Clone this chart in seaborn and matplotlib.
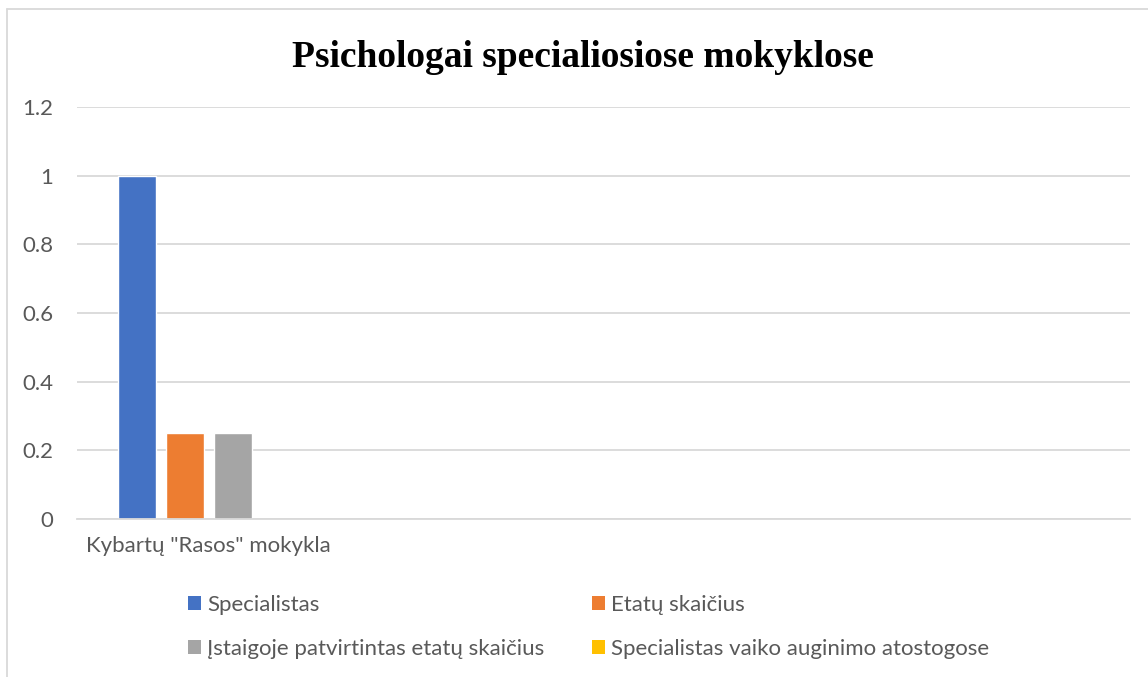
import matplotlib
matplotlib.use("Agg")
import matplotlib.pyplot as plt
import seaborn as sns
import pandas as pd
from matplotlib.patches import Patch
from matplotlib.lines import Line2D

categories = ['Kybartų "Rasos" mokykla']
series = ["Specialistas", "Etatų skaičius",
          "Įstaigoje patvirtintas etatų skaičius",
          "Specialistas vaiko auginimo atostogose"]
values = [1.0, 0.25, 0.25, 0.0]
colors = ["#4472C4", "#ED7D31", "#A5A5A5", "#FFC000"]
yticks = [0, 0.2, 0.4, 0.6, 0.8, 1, 1.2]
ytick_labels = ["0", "0.2", "0.4", "0.6", "0.8", "1", "1.2"]
n_slots = 4  # chart area holds room for four categories

df = pd.DataFrame({"Mokykla": categories * len(series),
                   "Serija": series, "Reikšmė": values})

sns.set_theme(style="white")
plt.rcParams["font.family"] = ["Lato", "DejaVu Sans"]

W, H = 1148, 677
FS = 16
fig = plt.figure(figsize=(W / 100, H / 100), dpi=100)
ax = fig.add_axes([77 / W, 1 - 519 / H, (1130 - 77) / W, (519 - 107) / H])

sns.barplot(data=df, x="Mokykla", y="Reikšmė", hue="Serija",
            hue_order=series, palette=colors, width=0.73, gap=0.21,
            saturation=1, ax=ax, legend=False)

ax.set_xlim(-0.5, n_slots - 0.5)
ax.set_ylim(0, 1.2)
ax.set_yticks(yticks)
ax.set_yticklabels(ytick_labels)
ax.yaxis.grid(True, color="#D9D9D9", linewidth=1.3)
ax.set_axisbelow(True)
for s in ["top", "right", "left"]:
    ax.spines[s].set_visible(False)
ax.spines["bottom"].set_color("#D9D9D9")
ax.spines["bottom"].set_linewidth(1.3)
ax.tick_params(axis="both", length=0, labelsize=FS, labelcolor="#595959")
ax.tick_params(axis="y", pad=17)
ax.tick_params(axis="x", pad=12)
ax.set_xlabel("")
ax.set_ylabel("")

fig.text(0.508, 1 - 67 / H, "Psichologai specialiosiose mokyklose",
         ha="center", va="baseline", fontsize=27, fontweight="bold",
         family=["Liberation Serif", "DejaVu Serif"], color="black")

handles = [Patch(facecolor=c, edgecolor="none", label=s) for c, s in zip(colors, series)]
leg_kw = dict(frameon=False, loc="center left", fontsize=FS, labelcolor="#595959",
              handlelength=0.6, handleheight=0.6, handletextpad=0.27,
              labelspacing=1.1, borderpad=0, borderaxespad=0)
leg1 = fig.legend(handles=[handles[0], handles[2]],
                  bbox_to_anchor=(188 / W, 1 - 627 / H), **leg_kw)
leg2 = fig.legend(handles=[handles[1], handles[3]],
                  bbox_to_anchor=(592 / W, 1 - 627 / H), **leg_kw)

# outer chart frame (cropped at right/bottom)
fig.add_artist(Line2D([7 / W, 7 / W], [0, 1 - 9 / H], color="#D9D9D9", lw=1.3,
                      transform=fig.transFigure))
fig.add_artist(Line2D([7 / W, 1], [1 - 9 / H, 1 - 9 / H], color="#D9D9D9", lw=1.3,
                      transform=fig.transFigure))

fig.savefig("out.png", dpi=100, facecolor="white")
